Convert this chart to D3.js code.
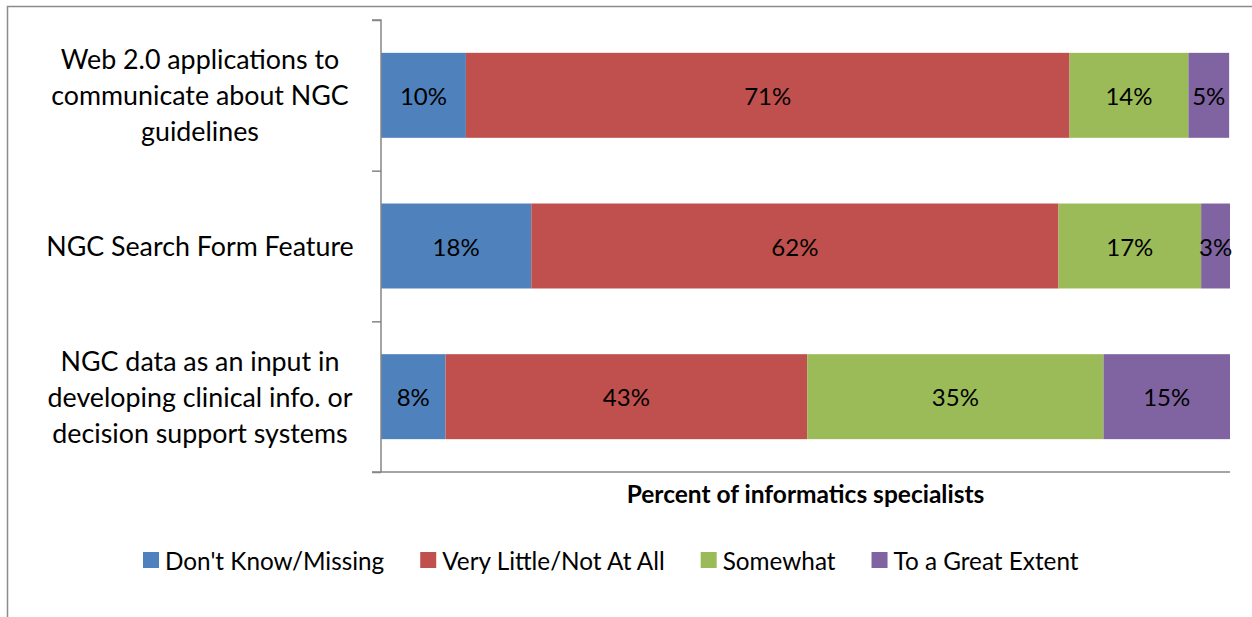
<!DOCTYPE html>
<html><head><meta charset="utf-8">
<script src="https://cdn.jsdelivr.net/npm/d3@7"></script>
<style>body{margin:0;background:#fff}svg{display:block}</style>
</head><body>
<svg id="c" width="1252" height="617"></svg>
<script>
const categories = ["Web 2.0 applications to communicate about NGC guidelines", "NGC Search Form Feature", "NGC data as an input in developing clinical info. or decision support systems"];
const categoryLines = [["Web 2.0 applications to", "communicate about NGC", "guidelines"], ["NGC Search Form Feature"], ["NGC data as an input in", "developing clinical info. or", "decision support systems"]];
const seriesNames = ["Don't Know/Missing", "Very Little/Not At All", "Somewhat", "To a Great Extent"];
const dontKnow = [10.0, 17.7, 7.6];
const veryLittle = [71.1, 62.1, 42.6];
const somewhat = [14.0, 16.8, 34.9];
const greatExtent = [4.8, 3.4, 14.9];
const colors = ["#4F81BD", "#C0504D", "#9BBB59", "#8064A2"];
const axisTitle = "Percent of informatics specialists";

const FONT = "Lato, 'Open Sans', sans-serif";
const svg = d3.select("#c");
const W = 1252, H = 617;
const plot = {left: 381, right: 1230, top: 20, bottom: 472};

// outer border
svg.append("rect").attr("x", 7.5).attr("y", 6.5).attr("width", W + 20).attr("height", H + 20)
  .attr("fill", "none").attr("stroke", "#8c8c8c").attr("stroke-width", 1.5);

const series = [dontKnow, veryLittle, somewhat, greatExtent];
const rows = categories.map((c, i) => {
  const o = {cat: c};
  seriesNames.forEach((s, j) => o[s] = series[j][i]);
  return o;
});
const stacked = d3.stack().keys(seriesNames)(rows);

const x = d3.scaleLinear().domain([0, 100]).range([plot.left, plot.right]);
const y = d3.scaleBand().domain(categories).range([plot.top, plot.bottom]).paddingInner(0.436).paddingOuter(0.218);

const g = svg.append("g");
stacked.forEach((layer, j) => {
  g.selectAll(null).data(layer).enter().append("rect")
    .attr("x", d => x(d[0])).attr("width", d => x(d[1]) - x(d[0]))
    .attr("y", (d, i) => y(categories[i])).attr("height", y.bandwidth())
    .attr("fill", colors[j]);
  g.selectAll(null).data(layer).enter().append("text")
    .attr("x", d => (x(d[0]) + x(d[1])) / 2)
    .attr("y", (d, i) => y(categories[i]) + y.bandwidth() / 2)
    .attr("text-anchor", "middle").attr("dominant-baseline", "central")
    .attr("font-family", FONT).attr("font-size", 24).attr("fill", "#000")
    .text(d => Math.round(d[1] - d[0]) + "%");
});

// axes
const yAxisScale = d3.scaleLinear().domain([0, categories.length]).range([plot.top, plot.bottom]);
const yAxis = d3.axisLeft(yAxisScale).tickValues(d3.range(0, categories.length + 1)).tickSize(9).tickFormat("");
const ya = svg.append("g").attr("transform", `translate(${plot.left},0)`).call(yAxis);
ya.select(".domain").attr("stroke", "#868686").attr("stroke-width", 1.5).attr("d", `M-9,${plot.top}H0V${plot.bottom}`);
ya.selectAll(".tick line").attr("stroke", "#868686").attr("stroke-width", 1.5);

const xAxis = d3.axisBottom(x).tickValues([]).tickSizeOuter(0);
const xa = svg.append("g").attr("transform", `translate(0,${plot.bottom})`).call(xAxis);
xa.select(".domain").attr("stroke", "#868686").attr("stroke-width", 1.5).attr("d", `M${plot.left - 9},0H${plot.right}`);

// category labels
const lineH = 36;
categories.forEach((c, i) => {
  const lines = categoryLines[i];
  const cy = y(c) + y.bandwidth() / 2;
  const t = svg.append("text").attr("text-anchor", "middle")
    .attr("font-family", FONT).attr("font-size", 26.8).attr("fill", "#000");
  lines.forEach((ln, k) => {
    t.append("tspan").attr("x", 200)
      .attr("y", cy + (k - (lines.length - 1) / 2) * lineH)
      .attr("dominant-baseline", "central").text(ln);
  });
});

// axis title
svg.append("text").attr("x", (plot.left + plot.right) / 2).attr("y", 493)
  .attr("text-anchor", "middle").attr("dominant-baseline", "central")
  .attr("font-family", FONT).attr("font-weight", "bold").attr("font-size", 24.5).attr("fill", "#000")
  .text(axisTitle);

// legend
const leg = svg.append("g");
let lx = 143;
const ly = 560;
seriesNames.forEach((s, j) => {
  leg.append("rect").attr("x", lx).attr("y", ly - 8).attr("width", 16).attr("height", 16).attr("fill", colors[j]);
  const t = leg.append("text").attr("x", lx + 22).attr("y", ly).attr("dominant-baseline", "central")
    .attr("font-family", FONT).attr("font-size", 24.3).attr("fill", "#000").text(s);
  lx += 22 + t.node().getComputedTextLength() + 36;
});
</script>
</body></html>
